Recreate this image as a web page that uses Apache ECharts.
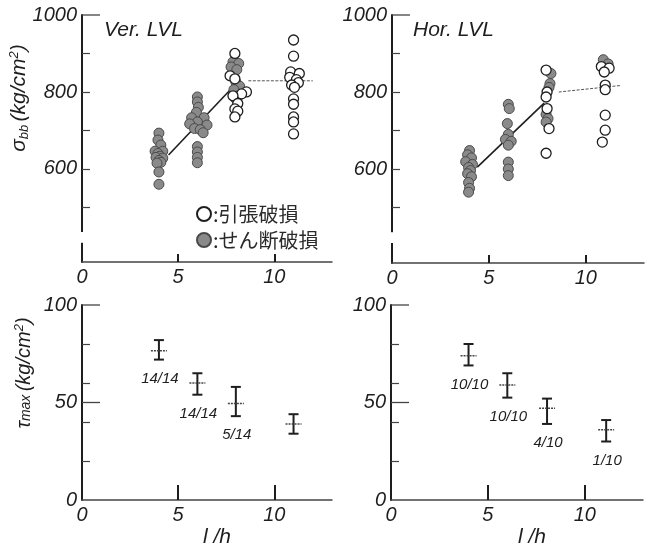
<!DOCTYPE html>
<html><head><meta charset="utf-8">
<script src="https://cdn.jsdelivr.net/npm/echarts@6/dist/echarts.min.js"></script>
<style>html,body{margin:0;padding:0;background:#fff}#c{width:650px;height:548px}</style>
</head><body><div id="c"></div>
<script>
// ---------- data ----------
const xTickLabels = [0, 5, 10];
const xTickMarks = [5, 10];
const sigmaTickLabels = [600, 800, 1000];
const sigmaMinorTicks = [500, 600, 700, 800, 900];
const sigmaMajorTicks = [1000];
const tauTickLabels = [0, 50, 100];
const tauMinorTicks = [20, 40, 60, 80];
const tauMajorTicks = [50, 100];

// Ver. LVL  σbb
const verShear = [
  [4.0,693],[3.95,675],[4.1,662],[3.8,646],[4.2,646],[3.95,640],[4.05,633],[3.85,630],[4.2,628],[4.0,622],[4.1,617],[3.9,615],[4.0,592],[4.0,560],
  [6.0,787],[6.0,774],[6.05,760],[5.95,747],[5.7,733],[6.35,733],[6.0,722],[5.6,717],[6.5,714],[5.85,705],[6.15,702],[6.3,694],[6.0,658],[6.0,644],[6.0,630],[6.0,616],
  [7.85,878],[8.15,874],[7.75,865],[8.05,858],[8.0,826],[8.2,815],[7.9,806],[8.15,790],[8.0,782],
  [11.0,845]
];
const verTension = [
  [7.95,900],[7.7,842],[7.95,834],[8.55,800],[8.3,795],[7.85,790],[8.1,770],[7.95,756],[8.1,750],[7.95,735],
  [11.0,935],[11.0,893],[10.85,852],[11.3,848],[10.8,838],[11.15,832],[11.25,824],[10.9,818],[11.05,812],[11.0,782],[11.0,768],[11.0,735],[11.0,722],[11.0,691]
];
const verTrendSolid = [[4.5,636],[7.7,805]];
const verTrendDash = [[8.65,829],[12.0,829]];

// Hor. LVL  σbb
const horShear = [
  [4.0,648],[3.9,637],[4.1,629],[3.8,619],[4.15,612],[3.95,604],[4.05,596],[3.9,588],[4.1,580],[3.95,565],[4.0,550],[3.95,540],
  [6.0,768],[6.05,757],[5.95,718],[6.0,690],[5.85,677],[6.15,672],[6.0,662],[6.0,618],[6.0,600],[6.0,583],
  [8.2,848],[8.15,822],[8.1,812],[7.95,742],[8.05,731],[7.95,722],
  [10.9,884],[11.15,873]
];
const horTension = [
  [7.95,857],[8.0,800],[7.95,787],[8.0,757],[8.1,705],[7.95,641],
  [10.8,866],[11.2,862],[10.95,852],[11.0,818],[11.0,806],[11.0,740],[11.0,701],[10.85,670]
];
const horTrendSolid = [[4.4,605],[7.85,771]];
const horTrendDash = [[8.6,800],[11.8,817]];

// τmax error bars
const verBarX = [4, 6, 8, 11];
const verBarMean = [76.5, 60, 49.5, 39];
const verBarHigh = [82, 65, 58, 44];
const verBarLow = [72, 54, 43, 34];
const verBarLabel = ['14/14', '14/14', '5/14', ''];

const horBarX = [4, 6, 8.05, 11.1];
const horBarMean = [74, 59, 47, 36];
const horBarHigh = [80, 65, 52, 41];
const horBarLow = [69, 52.5, 39, 30];
const horBarLabel = ['10/10', '10/10', '4/10', '1/10'];

// ---------- chart ----------
const INK = '#1e1e1e';
const NUMFONT = 'Liberation Sans';
const chart = echarts.init(document.getElementById('c'), null, {renderer: 'canvas'});

const grids = [
  {left: 82, top: 15, width: 250, height: 247},
  {left: 392, top: 15, width: 252, height: 248},
  {left: 82, top: 305, width: 250, height: 195},
  {left: 391, top: 305, width: 252, height: 195}
];
const plain = function (v) { return String(v); };

function xAx(gi, tickLen) {
  return {
    type: 'value', gridIndex: gi, min: 0, max: 13,
    axisLine: {show: true, lineStyle: {color: '#444', width: 1.5}},
    axisTick: {show: true, inside: true, length: tickLen, customValues: xTickMarks, lineStyle: {color: INK, width: 2}},
    axisLabel: {customValues: xTickLabels, formatter: plain, color: INK, fontSize: 20, fontStyle: 'italic', fontFamily: NUMFONT, margin: 5},
    splitLine: {show: false}
  };
}
function yAx(gi, min, max, labels, minor) {
  return {
    type: 'value', gridIndex: gi, min: min, max: max,
    axisLine: {show: true, lineStyle: {color: INK, width: 2}},
    axisTick: {show: true, inside: true, length: 8, customValues: minor, lineStyle: {color: '#444', width: 1.2}},
    axisLabel: {customValues: labels, formatter: plain, color: INK, fontSize: 20, fontStyle: 'italic', fontFamily: NUMFONT, margin: 5},
    splitLine: {show: false}
  };
}

function scatterOpen(name, data, xi, yi) {
  return {name: name, type: 'scatter', xAxisIndex: xi, yAxisIndex: yi, data: data, symbol: 'circle', symbolSize: 10, z: 5,
    itemStyle: {color: '#fff', borderColor: INK, borderWidth: 1.3, opacity: 1}};
}
function scatterFilled(name, data, xi, yi) {
  return {name: name, type: 'scatter', xAxisIndex: xi, yAxisIndex: yi, data: data, symbol: 'circle', symbolSize: 10, z: 4,
    itemStyle: {color: '#8a8a8a', borderColor: '#4a4a4a', borderWidth: 1, opacity: 1}};
}
function trend(data, xi, yi, dashed) {
  return {type: 'line', xAxisIndex: xi, yAxisIndex: yi, data: data, symbol: 'none', silent: true, z: 2,
    lineStyle: dashed ? {color: '#555', width: 1, type: [3, 1.5]} : {color: INK, width: 1.6}};
}
function errSeries(xs, means, highs, lows, labels, xi, yi) {
  const data = xs.map((x, i) => [x, means[i], highs[i], lows[i]]);
  return {
    type: 'custom', xAxisIndex: xi, yAxisIndex: yi, data: data, encode: {x: 0, y: [1, 2, 3]}, z: 5,
    renderItem: function (params, api) {
      const i = params.dataIndex;
      const x = api.value(0);
      const pm = api.coord([x, api.value(1)]);
      const ph = api.coord([x, api.value(2)]);
      const pl = api.coord([x, api.value(3)]);
      const cx = pm[0];
      const st = {stroke: INK, lineWidth: 2};
      const children = [
        {type: 'line', shape: {x1: cx, y1: ph[1], x2: cx, y2: pl[1]}, style: st},
        {type: 'line', shape: {x1: cx - 5, y1: ph[1], x2: cx + 5, y2: ph[1]}, style: st},
        {type: 'line', shape: {x1: cx - 5, y1: pl[1], x2: cx + 5, y2: pl[1]}, style: st},
        {type: 'line', shape: {x1: cx - 8, y1: pm[1], x2: cx + 8, y2: pm[1]}, style: {stroke: '#444', lineWidth: 1.5, lineDash: [2, 1]}}
      ];
      if (labels[i]) {
        children.push({type: 'text', x: cx + 1, y: pl[1] + 19,
          style: {text: labels[i], fill: INK, font: 'italic 15px "Liberation Sans"', align: 'center', verticalAlign: 'middle'}});
      }
      return {type: 'group', children: children};
    }
  };
}
// axis decorations drawn through the axis scales: longer major ticks + axis-break gap
function axisDeco(majors, gap) {
  return function (params, api) {
    const ch = [];
    majors.forEach(function (v) {
      const p = api.coord([0, v]);
      ch.push({type: 'line', shape: {x1: p[0], y1: p[1], x2: p[0] + 18, y2: p[1]}, style: {stroke: '#444', lineWidth: 1.3}});
    });
    if (gap) {
      const a = api.coord([0, gap[0]]);
      const b = api.coord([0, gap[1]]);
      ch.push({type: 'rect', shape: {x: a[0] - 3, y: a[1], width: 6, height: b[1] - a[1]}, style: {fill: '#fff'}});
    }
    return {type: 'group', children: ch};
  };
}
function decoSeries(majors, gap, xi, yi, ymid) {
  return {type: 'custom', xAxisIndex: xi, yAxisIndex: yi, silent: true, clip: false, z: 20,
    data: [[1, ymid]], encode: {x: 0, y: 1}, renderItem: axisDeco(majors, gap)};
}
const sigmaGap = [436, 408];

const T1 = '引張破損', T2 = 'せん断破損';

const option = {
  backgroundColor: '#fff',
  animation: false,
  grid: grids,
  xAxis: [xAx(0, 8), xAx(1, 8), xAx(2, 15), xAx(3, 15)],
  yAxis: [
    yAx(0, 358, 1000, sigmaTickLabels, sigmaMinorTicks),
    yAx(1, 356, 1000, sigmaTickLabels, sigmaMinorTicks),
    yAx(2, 0, 100, tauTickLabels, tauMinorTicks),
    yAx(3, 0, 100, tauTickLabels, tauMinorTicks)
  ],
  legend: {
    data: [T1, T2], left: 196, top: 204, orient: 'vertical', icon: 'circle',
    itemWidth: 14, itemHeight: 14, itemGap: 6, padding: 0, selectedMode: false,
    formatter: ':{name}',
    textStyle: {fontFamily: 'Noto Sans CJK JP', fontSize: 20, color: '#2a2a2a', padding: [0, 0, 0, -3]}
  },
  series: [
    trend(verTrendSolid, 0, 0, false),
    trend(verTrendDash, 0, 0, true),
    scatterOpen(T1, verTension, 0, 0),
    scatterFilled(T2, verShear, 0, 0),
    trend(horTrendSolid, 1, 1, false),
    trend(horTrendDash, 1, 1, true),
    scatterOpen(T1, horTension, 1, 1),
    scatterFilled(T2, horShear, 1, 1),
    errSeries(verBarX, verBarMean, verBarHigh, verBarLow, verBarLabel, 2, 2),
    errSeries(horBarX, horBarMean, horBarHigh, horBarLow, horBarLabel, 3, 3),
    decoSeries(sigmaMajorTicks, sigmaGap, 0, 0, 700),
    decoSeries(sigmaMajorTicks, sigmaGap, 1, 1, 700),
    decoSeries(tauMajorTicks, null, 2, 2, 50),
    decoSeries(tauMajorTicks, null, 3, 3, 50)
  ],
  graphic: [
    {id: 'tVer', type: 'text', left: 104, top: 20, style: {text: 'Ver. LVL', font: 'italic 21px "Liberation Sans"', fill: INK}},
    {id: 'tHor', type: 'text', left: 413, top: 20, style: {text: 'Hor. LVL', font: 'italic 21px "Liberation Sans"', fill: INK}},
    {id: 'ySig', type: 'text', x: 19, y: 98, rotation: Math.PI / 2,
      style: {text: '{a|σ}{b|bb} {a|(kg/cm}{c|2}{a|)}', align: 'center', verticalAlign: 'middle', fill: INK,
        rich: {
          a: {fontFamily: NUMFONT, fontStyle: 'italic', fontSize: 21, fill: INK},
          b: {fontFamily: NUMFONT, fontStyle: 'italic', fontSize: 13, fill: INK, padding: [10, 0, 0, 0]},
          c: {fontFamily: NUMFONT, fontStyle: 'italic', fontSize: 13, fill: INK, padding: [0, 0, 10, 0]}
        }}},
    {id: 'yTau', type: 'text', x: 24, y: 373, rotation: Math.PI / 2,
      style: {text: '{a|τ}{b|max} {a|(kg/cm}{c|2}{a|)}', align: 'center', verticalAlign: 'middle', fill: INK,
        rich: {
          a: {fontFamily: NUMFONT, fontStyle: 'italic', fontSize: 20, fill: INK},
          b: {fontFamily: NUMFONT, fontStyle: 'italic', fontSize: 14, fill: INK, padding: [4, 0, 0, 0]},
          c: {fontFamily: NUMFONT, fontStyle: 'italic', fontSize: 13, fill: INK, padding: [0, 0, 10, 0]}
        }}},
    {id: 'xl1', type: 'text', x: 217, y: 537, style: {text: 'l /h', font: 'italic 21px "Liberation Sans"', fill: INK, align: 'center', verticalAlign: 'middle'}},
    {id: 'xl2', type: 'text', x: 532, y: 537, style: {text: 'l /h', font: 'italic 21px "Liberation Sans"', fill: INK, align: 'center', verticalAlign: 'middle'}}
  ]
};
chart.setOption(option);
</script>
</body></html>
